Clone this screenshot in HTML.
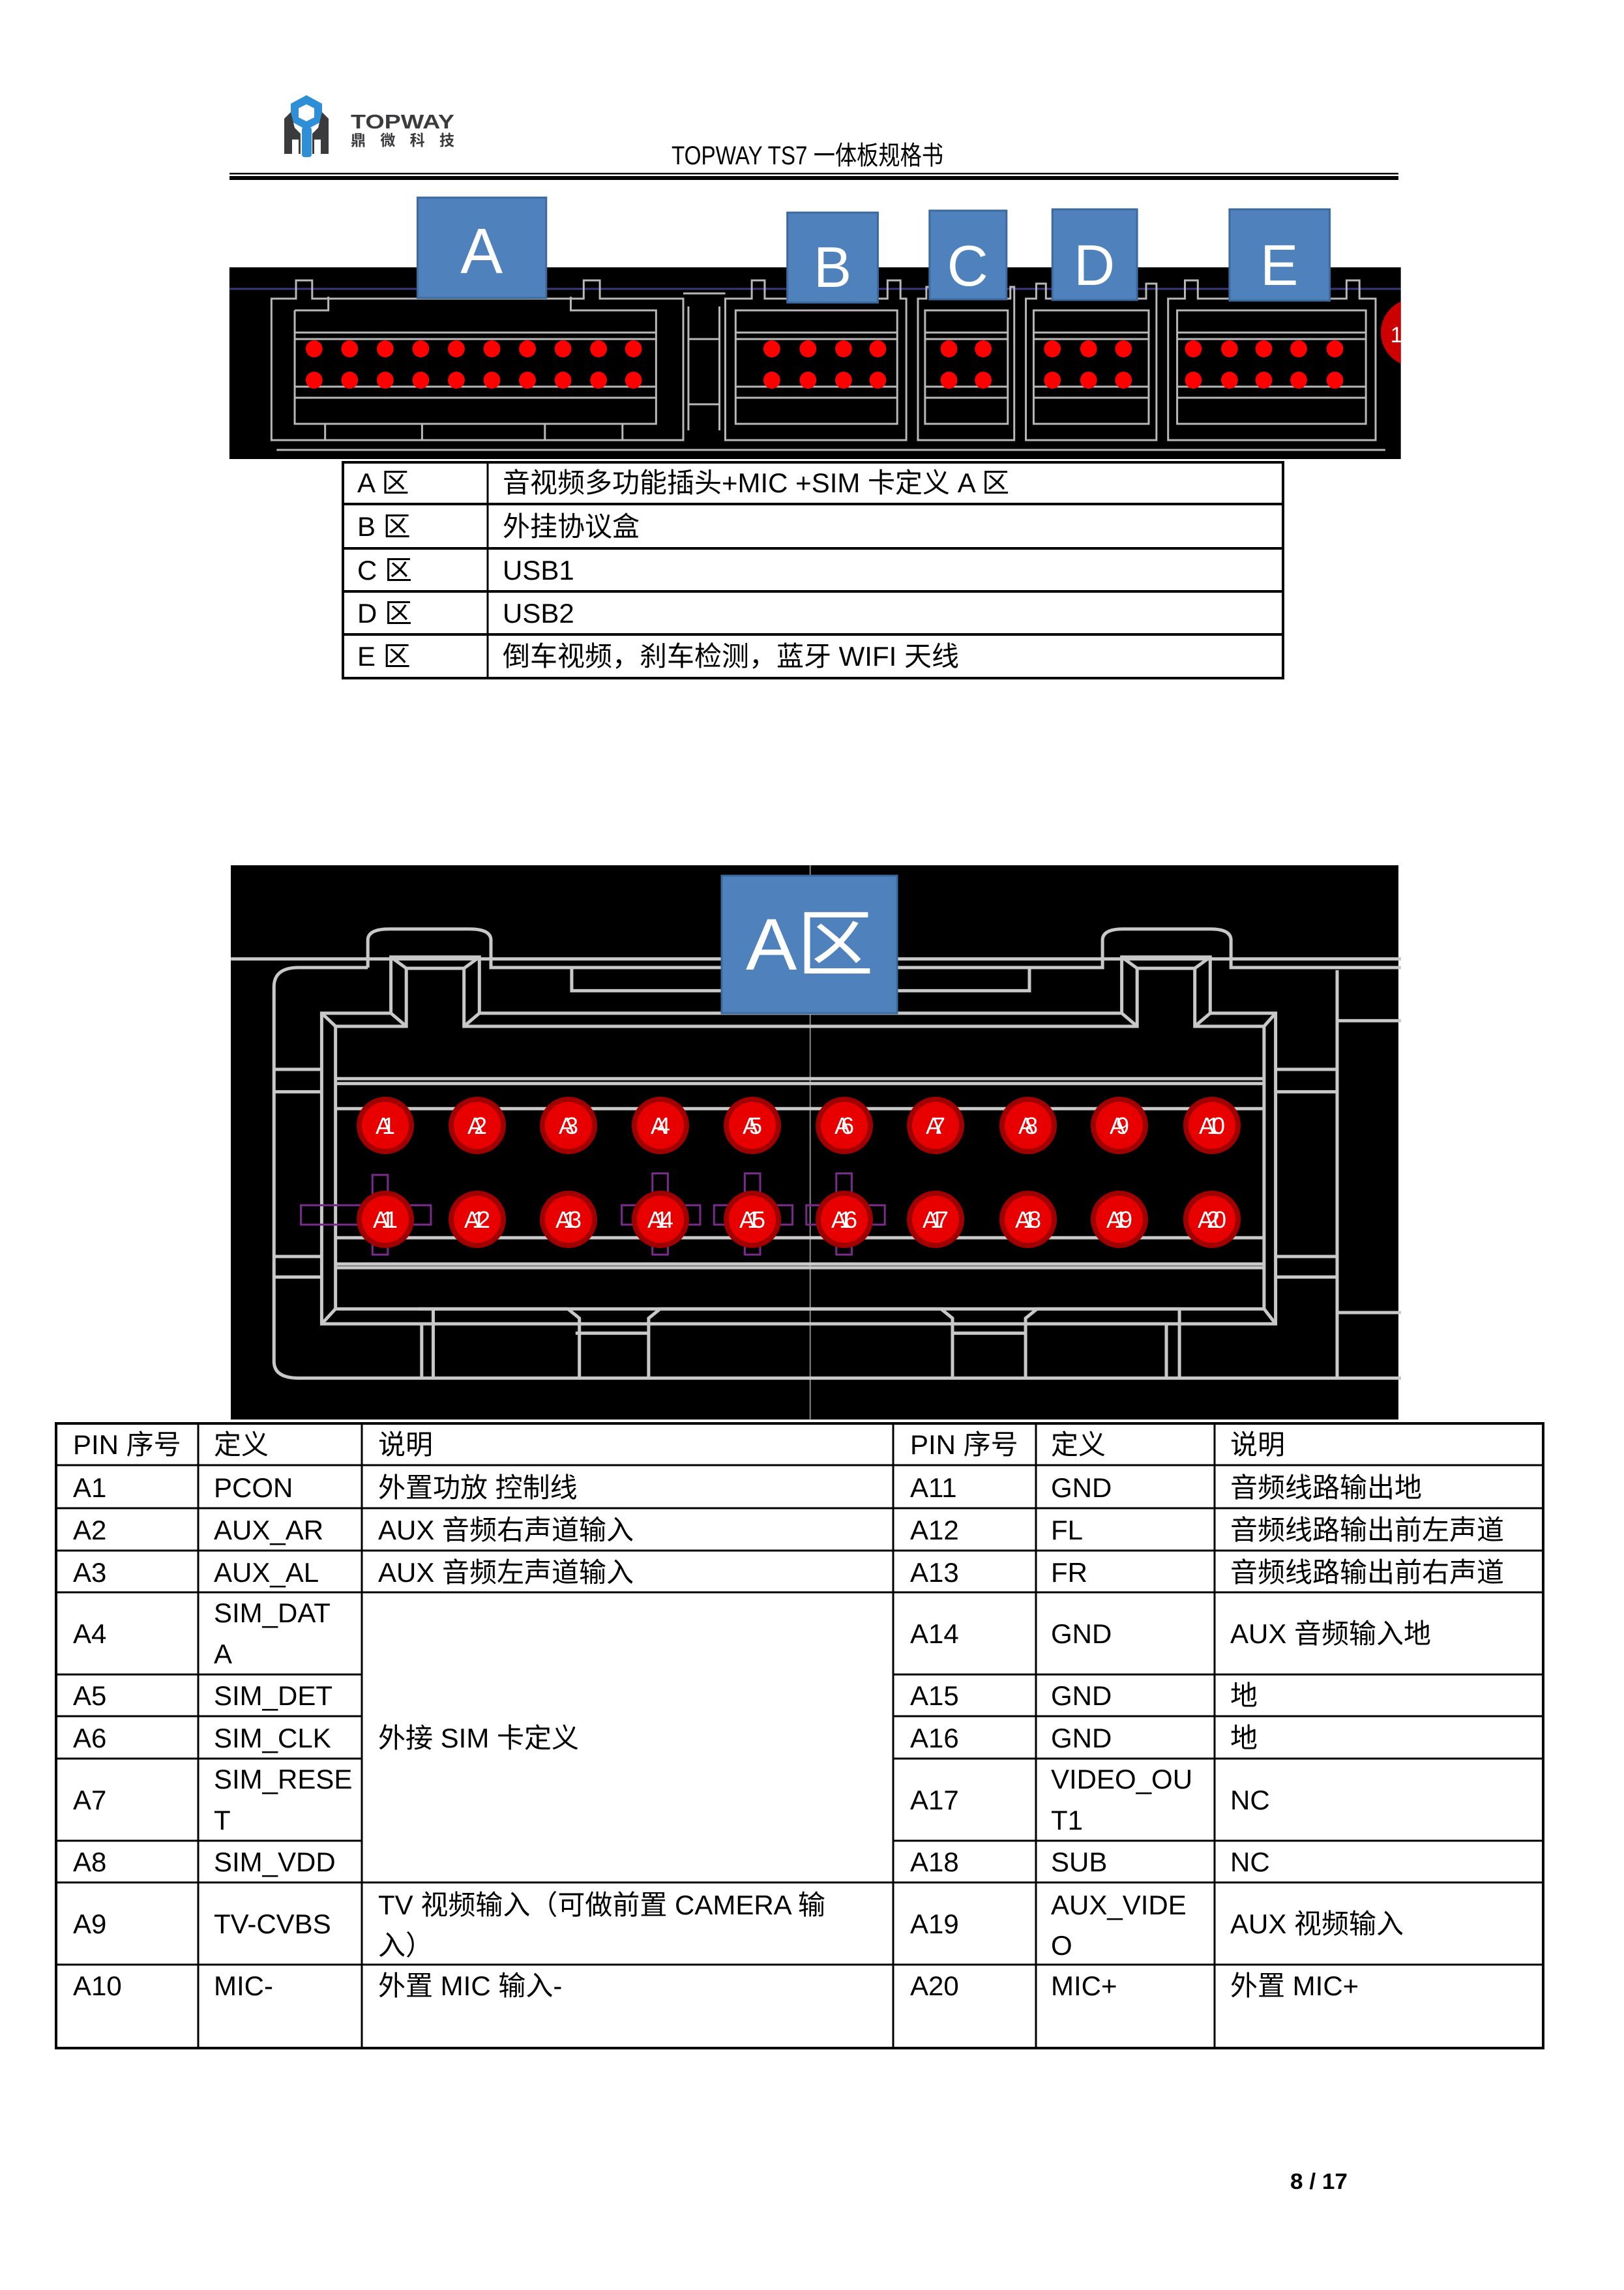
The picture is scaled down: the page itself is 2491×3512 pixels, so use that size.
<!DOCTYPE html>
<html><head><meta charset="utf-8"><style>
html,body{margin:0;padding:0;background:#fff;}
svg{display:block;}
text{font-family:"Liberation Sans","Noto Sans CJK SC",sans-serif;}
</style></head><body>
<svg width="2491" height="3512" viewBox="0 0 2491 3512" xmlns="http://www.w3.org/2000/svg">
<defs>
<clipPath id="c1"><rect x="352" y="410" width="1812" height="294"/></clipPath>
</defs>
<rect width="2491" height="3512" fill="#fff"/>

<!-- Logo -->
<polygon points="470,146 494,159 494,186 470,199 446,186 446,159" fill="#2f8fd6"/>
<polygon points="470,160 482,166 482,180 470,186 458,180 458,166" fill="#fff"/>
<rect x="463" y="195" width="15" height="46" rx="4" fill="#2f8fd6"/>
<path d="M446,172 L436,182 V236 H448 V214 H458 V236 H461 V205 L452,196 Z" fill="#3b3b3d"/>
<path d="M494,172 L504,182 V236 H492 V214 H482 V236 H479 V205 L488,196 Z" fill="#3b3b3d"/>
<text x="538" y="197" font-size="31" font-weight="bold" fill="#3b3b3d" textLength="159" lengthAdjust="spacingAndGlyphs">TOPWAY</text>
<text x="538" y="223" font-size="23" font-weight="bold" fill="#3b3b3d" textLength="159" lengthAdjust="spacing">鼎微科技</text>

<!-- Title -->
<text x="1030" y="252" font-size="40" fill="#000" textLength="417" lengthAdjust="spacingAndGlyphs">TOPWAY TS7 一体板规格书</text>
<rect x="352" y="265" width="1793" height="2.5" fill="#000"/>
<rect x="352" y="270" width="1793" height="6" fill="#000"/>

<!-- Image 1 -->
<g transform="matrix(0.9916,0,0,1,2.86,0)">
<rect x="352" y="410" width="1812" height="294" fill="#000"/>
<line x1="352" y1="443" x2="2164" y2="443" stroke="#3a3a7a" stroke-width="3"/>
<g fill="none" stroke="#b8b8b8" stroke-width="3">
  <path d="M417,458 H455 V430 H480 V458 H900 V430 H925 V458 H1054 V675 H417 Z"/>
  <path d="M453,476 H505 V455"/>
  <path d="M880,455 V476 H1012 V650 H453 V476"/>
  <path d="M453,510 H1012 M453,520 H1012 M453,593 H1012 M453,610 H1012"/>
  <path d="M500,650 V675 M650,650 V675 M840,650 V675 M960,650 V675"/>
  <path d="M1054,450 H1119 M1062,470 V660 M1110,470 V660 M1062,520 H1110 M1062,620 H1110"/>
  <path d="M1119,458 H1160 V430 H1180 V458 H1370 V430 H1390 V458 H1399 V675 H1119 Z"/>
  <path d="M1135,476 H1385 V650 H1135 Z M1135,510 H1385 M1135,520 H1385 M1135,593 H1385 M1135,610 H1385"/>
  <path d="M1417,458 H1430 V440 H1440 V458 H1560 V440 H1566 V675 H1417 Z"/>
  <path d="M1428,476 H1556 V650 H1428 Z M1428,510 H1556 M1428,520 H1556 M1428,593 H1556 M1428,610 H1556"/>
  <path d="M1584,458 H1600 V435 H1615 V458 H1770 V435 H1786 V675 H1584 Z"/>
  <path d="M1596,476 H1774 V650 H1596 Z M1596,510 H1774 M1596,520 H1774 M1596,593 H1774 M1596,610 H1774"/>
  <path d="M1804,458 H1830 V430 H1850 V458 H2080 V430 H2100 V458 H2125 V675 H1804 Z"/>
  <path d="M1818,476 H2110 V650 H1818 Z M1818,510 H2110 M1818,520 H2110 M1818,593 H2110 M1818,610 H2110"/>
  <path d="M425,690 H2140"/>
</g>
<g clip-path="url(#c1)">
<circle cx="2185" cy="510" r="52" fill="#cc0000"/>
<text x="2148" y="525" font-size="34" fill="#fff">1</text>
</g>
<g fill="#ff0000">
  <g id="rA">
  <circle cx="483" cy="535" r="13"/><circle cx="538" cy="535" r="13"/><circle cx="593" cy="535" r="13"/><circle cx="648" cy="535" r="13"/><circle cx="703" cy="535" r="13"/><circle cx="758" cy="535" r="13"/><circle cx="813" cy="535" r="13"/><circle cx="868" cy="535" r="13"/><circle cx="923" cy="535" r="13"/><circle cx="977" cy="535" r="13"/>
  <circle cx="1191" cy="535" r="13"/><circle cx="1247" cy="535" r="13"/><circle cx="1302" cy="535" r="13"/><circle cx="1355" cy="535" r="13"/>
  <circle cx="1465" cy="535" r="13"/><circle cx="1518" cy="535" r="13"/>
  <circle cx="1625" cy="535" r="13"/><circle cx="1681" cy="535" r="13"/><circle cx="1735" cy="535" r="13"/>
  <circle cx="1843" cy="535" r="13"/><circle cx="1899" cy="535" r="13"/><circle cx="1952" cy="535" r="13"/><circle cx="2006" cy="535" r="13"/><circle cx="2062" cy="535" r="13"/>
  </g>
  <use href="#rA" y="48"/>
</g>
<g fill="#4f81bd" stroke="#3d6a9e" stroke-width="3">
  <rect x="643" y="303" width="199" height="154"/>
  <rect x="1215" y="326" width="140" height="138"/>
  <rect x="1435" y="323" width="119" height="136"/>
  <rect x="1625" y="321" width="131" height="139"/>
  <rect x="1899" y="321" width="155" height="140"/>
</g>
<g fill="#fff" text-anchor="middle">
  <text x="742" y="419" font-size="98">A</text>
  <text x="1285" y="440" font-size="88">B</text>
  <text x="1494" y="438" font-size="88">C</text>
  <text x="1690" y="437" font-size="88">D</text>
  <text x="1976" y="437" font-size="88">E</text>
</g>
</g>

<!-- Small table -->
<g stroke="#000" fill="none">
  <rect x="526" y="709" width="1442" height="331" stroke-width="4"/>
  <path d="M748,709 V1040" stroke-width="3"/>
  <path d="M526,773 H1968 M526,841 H1968 M526,907 H1968 M526,973 H1968" stroke-width="4"/>
</g>
<g font-size="42" fill="#000">
  <text x="548" y="755">A 区</text><text x="771" y="755">音视频多功能插头+MIC +SIM 卡定义 A 区</text>
  <text x="548" y="822">B 区</text><text x="771" y="822">外挂协议盒</text>
  <text x="548" y="889">C 区</text><text x="771" y="889">USB1</text>
  <text x="548" y="955">D 区</text><text x="771" y="955">USB2</text>
  <text x="548" y="1021">E 区</text><text x="771" y="1021">倒车视频，刹车检测，蓝牙 WIFI 天线</text>
</g>

<!-- Image 2 -->
<rect x="354" y="1327" width="1791" height="850" fill="#000"/>
<g transform="translate(340,1330) scale(1.18,0.574)" fill="none" stroke="#c8c8c8" stroke-width="5">
  <path vector-effect="non-scaling-stroke" d="M765,-5 V1475" stroke="#888" stroke-width="2"/>
  <path vector-effect="non-scaling-stroke" d="M12,245 H650 M878,245 H1533"/>
  <path vector-effect="non-scaling-stroke" d="M190,268 H100 Q68,268 68,320 V1320 Q68,1365 100,1365 H1533"/>
  <path vector-effect="non-scaling-stroke" d="M190,268 V195 Q190,165 218,165 H322 Q350,165 350,195 V268 H650"/>
  <path vector-effect="non-scaling-stroke" d="M878,268 H1145 V195 Q1145,165 1172,165 H1285 Q1312,165 1312,195 V268 H1533"/>
  <path vector-effect="non-scaling-stroke" d="M455,268 V330 H650 M878,330 H1050 V268"/>
  <path vector-effect="non-scaling-stroke" d="M1450,275 V1365 M1450,410 H1533 M1450,1190 H1533"/>
  <path vector-effect="non-scaling-stroke" d="M130,390 H220 V240 H335 V390 H1170 V240 H1285 V390 H1370 V1220 H130 Z"/>
  <path vector-effect="non-scaling-stroke" d="M148,425 H240 V270 H315 V425 H1190 V270 H1265 V425 H1355 V1180 H148 Z"/>
  <path vector-effect="non-scaling-stroke" d="M130,390 L148,425 M1370,390 L1355,425 M130,1220 L148,1180 M1370,1220 L1355,1180 M220,240 L240,270 M335,240 L315,270 M1170,240 L1190,270 M1285,240 L1265,270 M220,390 L240,425 M335,390 L315,425 M1170,390 L1190,425 M1285,390 L1265,425"/>
  <path vector-effect="non-scaling-stroke" d="M148,565 H1355 M148,578 H1355 M148,645 H1355 M148,990 H1355 M148,1060 H1355 M148,1070 H1355"/>
  <path vector-effect="non-scaling-stroke" d="M68,540 H130 M68,600 H130 M68,1040 H130 M68,1095 H130 M1370,540 H1450 M1370,600 H1450 M1370,1040 H1450 M1370,1095 H1450"/>
  <path vector-effect="non-scaling-stroke" d="M255,1180 H450 L465,1205 V1365 M460,1245 H555 M555,1365 V1205 L570,1180 H935 L950,1205 V1365 M950,1245 H1045 M1045,1365 V1205 L1060,1180 H1245 M1228,1220 V1365 M1245,1180 V1365 M260,1220 V1365 M275,1180 V1365"/>
  <g stroke="#7a2a8a" stroke-width="3">
    <path vector-effect="non-scaling-stroke" d="M196,822 H216 V1035 H196 Z M103,903 H272 V955 H103 Z"/>
    <path vector-effect="non-scaling-stroke" d="M560,818 H580 V1035 H560 Z M520,903 H622 V955 H520 Z"/>
    <path vector-effect="non-scaling-stroke" d="M680,818 H700 V1035 H680 Z M640,903 H742 V955 H640 Z"/>
    <path vector-effect="non-scaling-stroke" d="M799,818 H819 V1035 H799 Z M760,903 H862 V955 H760 Z"/>
  </g>
</g>
<g id="p1">
<circle cx="591" cy="1726" r="44" fill="#a00000"/><circle cx="591" cy="1726" r="36" fill="#e80000"/>
<circle cx="732" cy="1726" r="44" fill="#a00000"/><circle cx="732" cy="1726" r="36" fill="#e80000"/>
<circle cx="872" cy="1726" r="44" fill="#a00000"/><circle cx="872" cy="1726" r="36" fill="#e80000"/>
<circle cx="1013" cy="1726" r="44" fill="#a00000"/><circle cx="1013" cy="1726" r="36" fill="#e80000"/>
<circle cx="1154" cy="1726" r="44" fill="#a00000"/><circle cx="1154" cy="1726" r="36" fill="#e80000"/>
<circle cx="1295" cy="1726" r="44" fill="#a00000"/><circle cx="1295" cy="1726" r="36" fill="#e80000"/>
<circle cx="1435" cy="1726" r="44" fill="#a00000"/><circle cx="1435" cy="1726" r="36" fill="#e80000"/>
<circle cx="1577" cy="1726" r="44" fill="#a00000"/><circle cx="1577" cy="1726" r="36" fill="#e80000"/>
<circle cx="1717" cy="1726" r="44" fill="#a00000"/><circle cx="1717" cy="1726" r="36" fill="#e80000"/>
<circle cx="1859" cy="1726" r="44" fill="#a00000"/><circle cx="1859" cy="1726" r="36" fill="#e80000"/>
</g>
<use href="#p1" y="144"/>
<g fill="#fff" font-size="36" text-anchor="middle" lengthAdjust="spacingAndGlyphs">
  <text x="591" y="1739" textLength="30">A1</text><text x="732" y="1739" textLength="30">A2</text><text x="872" y="1739" textLength="30">A3</text><text x="1013" y="1739" textLength="30">A4</text><text x="1154" y="1739" textLength="30">A5</text><text x="1295" y="1739" textLength="30">A6</text><text x="1435" y="1739" textLength="30">A7</text><text x="1577" y="1739" textLength="30">A8</text><text x="1717" y="1739" textLength="30">A9</text><text x="1859" y="1739" textLength="40">A10</text>
  <text x="591" y="1883" textLength="38">A11</text><text x="732" y="1883" textLength="40">A12</text><text x="872" y="1883" textLength="40">A13</text><text x="1013" y="1883" textLength="40">A14</text><text x="1154" y="1883" textLength="40">A15</text><text x="1295" y="1883" textLength="40">A16</text><text x="1435" y="1883" textLength="40">A17</text><text x="1577" y="1883" textLength="40">A18</text><text x="1717" y="1883" textLength="40">A19</text><text x="1859" y="1883" textLength="44">A20</text>
</g>
<rect x="1107" y="1343" width="269" height="211" fill="#4f81bd" stroke="#3d6a9e" stroke-width="3"/>
<text x="1242" y="1487" font-size="112" fill="#fff" text-anchor="middle" textLength="196" lengthAdjust="spacingAndGlyphs">A区</text>

<!-- Main table -->
<g stroke="#000" fill="none">
  <rect x="86" y="2183" width="2281" height="958" stroke-width="4"/>
  <path d="M304,2183 V3141 M555,2183 V3141 M1370,2183 V3141 M1589,2183 V3141 M1863,2183 V3141" stroke-width="3"/>
  <path d="M86,2247 H2367 M86,2313 H2367 M86,2378 H2367 M86,2442 H2367 M86,3013 H2367 M86,2887 H2367" stroke-width="3"/>
  <path d="M86,2568 H555 M1370,2568 H2367 M86,2632 H555 M1370,2632 H2367 M86,2697 H555 M1370,2697 H2367 M86,2823 H555 M1370,2823 H2367" stroke-width="3"/>
</g>
<g font-size="42" fill="#000">
  <text x="112" y="2230">PIN 序号</text><text x="328" y="2230">定义</text><text x="580" y="2230">说明</text>
  <text x="1396" y="2230">PIN 序号</text><text x="1612" y="2230">定义</text><text x="1887" y="2230">说明</text>

  <text x="112" y="2296">A1</text><text x="328" y="2296">PCON</text><text x="580" y="2296">外置功放 控制线</text>
  <text x="1396" y="2296">A11</text><text x="1612" y="2296">GND</text><text x="1887" y="2296">音频线路输出地</text>

  <text x="112" y="2361">A2</text><text x="328" y="2361">AUX_AR</text><text x="580" y="2361">AUX 音频右声道输入</text>
  <text x="1396" y="2361">A12</text><text x="1612" y="2361">FL</text><text x="1887" y="2361">音频线路输出前左声道</text>

  <text x="112" y="2426">A3</text><text x="328" y="2426">AUX_AL</text><text x="580" y="2426">AUX 音频左声道输入</text>
  <text x="1396" y="2426">A13</text><text x="1612" y="2426">FR</text><text x="1887" y="2426">音频线路输出前右声道</text>

  <text x="112" y="2520">A4</text><text x="328" y="2488">SIM_DAT</text><text x="328" y="2551">A</text>
  <text x="1396" y="2520">A14</text><text x="1612" y="2520">GND</text><text x="1887" y="2520">AUX 音频输入地</text>

  <text x="112" y="2615">A5</text><text x="328" y="2615">SIM_DET</text>
  <text x="1396" y="2615">A15</text><text x="1612" y="2615">GND</text><text x="1887" y="2615">地</text>

  <text x="112" y="2680">A6</text><text x="328" y="2680">SIM_CLK</text><text x="580" y="2680">外接 SIM 卡定义</text>
  <text x="1396" y="2680">A16</text><text x="1612" y="2680">GND</text><text x="1887" y="2680">地</text>

  <text x="112" y="2775">A7</text><text x="328" y="2743">SIM_RESE</text><text x="328" y="2806">T</text>
  <text x="1396" y="2775">A17</text><text x="1612" y="2743">VIDEO_OU</text><text x="1612" y="2806">T1</text><text x="1887" y="2775">NC</text>

  <text x="112" y="2870">A8</text><text x="328" y="2870">SIM_VDD</text>
  <text x="1396" y="2870">A18</text><text x="1612" y="2870">SUB</text><text x="1887" y="2870">NC</text>

  <text x="112" y="2965">A9</text><text x="328" y="2965">TV-CVBS</text><text x="580" y="2936">TV 视频输入（可做前置 CAMERA 输</text><text x="580" y="2998">入）</text>
  <text x="1396" y="2965">A19</text><text x="1612" y="2936">AUX_VIDE</text><text x="1612" y="2998">O</text><text x="1887" y="2965">AUX 视频输入</text>

  <text x="112" y="3060">A10</text><text x="328" y="3060">MIC-</text><text x="580" y="3060">外置 MIC 输入-</text>
  <text x="1396" y="3060">A20</text><text x="1612" y="3060">MIC+</text><text x="1887" y="3060">外置 MIC+</text>
</g>

<text x="1979" y="3357" font-size="34" font-weight="bold" fill="#000" textLength="88" lengthAdjust="spacingAndGlyphs">8 / 17</text>
</svg>
</body></html>
